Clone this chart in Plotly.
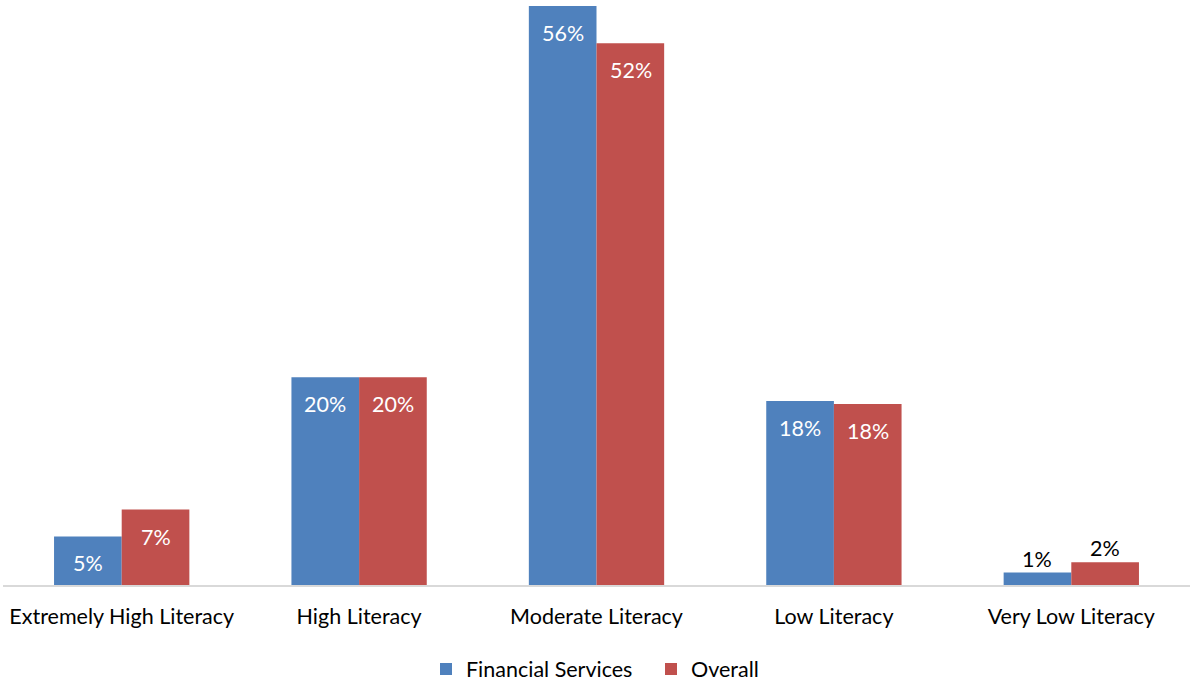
import plotly.graph_objects as go

categories = ["Extremely High Literacy", "High Literacy", "Moderate Literacy", "Low Literacy", "Very Low Literacy"]
financial = [4.7, 20.1, 56.0, 17.8, 1.2]
overall = [7.3, 20.1, 52.4, 17.5, 2.2]
fin_labels = ["5%", "20%", "56%", "18%", "1%"]
ovr_labels = ["7%", "20%", "52%", "18%", "2%"]

BLUE = "#4F81BD"
RED = "#C0504D"
FONT = "Lato"
FS = 21.5

fig = go.Figure()
fig.add_trace(go.Bar(name="Financial Services", x=categories, y=financial, marker_color=BLUE,
                     marker_line_width=0, hoverinfo="skip"))
fig.add_trace(go.Bar(name="Overall", x=categories, y=overall, marker_color=RED,
                     marker_line_width=0, hoverinfo="skip"))

annotations = []
for i, c in enumerate(categories):
    for vals, labs, shift in ((financial, fin_labels, -34), (overall, ovr_labels, 34)):
        inside = i != len(categories) - 1
        annotations.append(dict(
            x=c, y=vals[i], xref="x", yref="y", text=labs[i], showarrow=False,
            xshift=shift, yshift=-27 if inside else 14,
            font=dict(family=FONT, size=FS, color="white" if inside else "black"),
        ))

fig.update_layout(
    barmode="group", bargap=0.43, bargroupgap=0,
    width=1190, height=681,
    margin=dict(l=3, r=0, t=6, b=96, autoexpand=False),
    plot_bgcolor="white", paper_bgcolor="white",
    font=dict(family=FONT, size=FS, color="black"),
    annotations=annotations,
    legend=dict(orientation="h", x=(426 - 3) / 1187, xanchor="left", y=-0.145, yanchor="middle",
                font=dict(family=FONT, size=FS), itemwidth=30, traceorder="normal",
                entrywidth=180, entrywidthmode="pixels"),
    xaxis=dict(showline=True, linecolor="#D9D9D9", linewidth=1.5, ticks="", automargin=False,
               ticklabelstandoff=11, tickfont=dict(family=FONT, size=FS, color="black")),
    yaxis=dict(range=[0, 56], showgrid=False, showticklabels=False, zeroline=False, visible=False),
)

fig.write_html("out.html")
